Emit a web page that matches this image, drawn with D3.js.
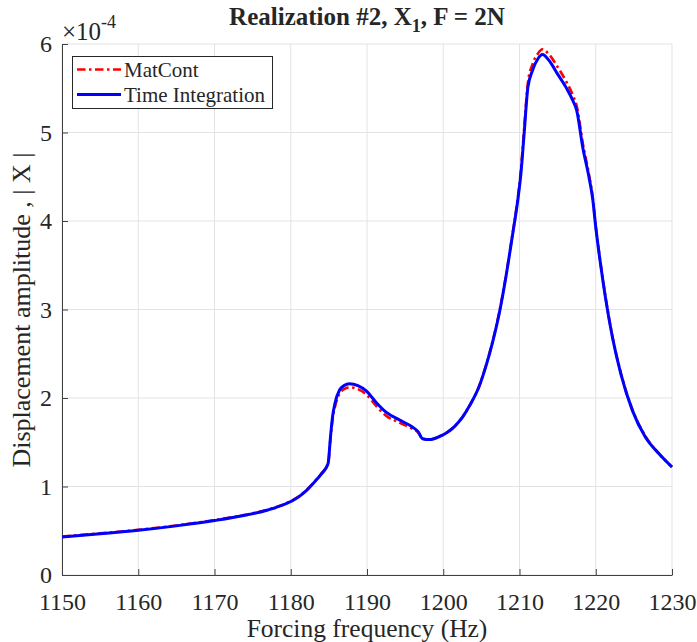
<!DOCTYPE html>
<html>
<head>
<meta charset="utf-8">
<script src="https://cdn.jsdelivr.net/npm/d3@7"></script>
<style>
  html, body { margin: 0; padding: 0; background: #fff; }
  svg { display: block; }
  text { font-family: "Liberation Serif", "Times New Roman", serif; fill: #262626; }
</style>
</head>
<body>
<svg id="chart" width="697" height="642"></svg>
<script>
// Forcing frequency samples (Hz)
const frequencies = [
  1150, 1155, 1160, 1165, 1170, 1174, 1177, 1180, 1181, 1182, 1183, 1184, 1184.9,
  1185.2, 1185.5, 1185.8, 1186.4, 1187, 1187.7, 1188.8, 1189.9, 1191.2, 1192.5,
  1194.3, 1196.0, 1196.7, 1197.3, 1198.2, 1199.5, 1200.5, 1201.5, 1202.5, 1203.5,
  1204.7, 1205.6, 1206.5, 1207.4, 1208.2, 1209.1, 1209.75, 1210.2, 1210.6, 1211.1,
  1211.7, 1212.4, 1213.0, 1213.9, 1215.0, 1216.1, 1217.0, 1217.5, 1218.3, 1219.1,
  1219.6, 1220.0, 1220.65, 1221.3, 1222.2, 1223.3, 1224.8, 1226.5, 1228.3, 1230
];

// Displacement amplitude |X| in units of 1e-4 — time integration
const timeIntegration = [
  0.43, 0.465, 0.505, 0.555, 0.615, 0.675, 0.735, 0.83, 0.88, 0.95, 1.04, 1.14, 1.26,
  1.55, 1.80, 1.94, 2.09, 2.14, 2.16, 2.14, 2.08, 1.95, 1.84,
  1.75, 1.67, 1.62, 1.54, 1.53, 1.565, 1.61, 1.68, 1.78, 1.92,
  2.13, 2.36, 2.64, 2.98, 3.36, 3.85, 4.22, 4.55, 4.98, 5.51,
  5.70, 5.83, 5.88, 5.81, 5.66, 5.51, 5.36, 5.25, 4.83, 4.50,
  4.25, 3.93, 3.50, 3.12, 2.68, 2.27, 1.86, 1.56, 1.37, 1.22
];

// Displacement amplitude |X| in units of 1e-4 — MatCont continuation
const matcont = [
  0.435, 0.47, 0.51, 0.56, 0.62, 0.68, 0.74, 0.835, 0.885, 0.955, 1.045, 1.145, 1.26,
  1.53, 1.77, 1.90, 2.05, 2.10, 2.12, 2.10, 2.04, 1.91, 1.80,
  1.72, 1.65, 1.61, 1.54, 1.53, 1.565, 1.61, 1.68, 1.78, 1.92,
  2.13, 2.37, 2.65, 2.99, 3.37, 3.86, 4.24, 4.59, 5.03, 5.56,
  5.77, 5.89, 5.94, 5.88, 5.74, 5.58, 5.42, 5.30, 4.88, 4.53,
  4.27, 3.94, 3.51, 3.13, 2.69, 2.28, 1.87, 1.57, 1.37, 1.22
];

const xTicks = [1150, 1160, 1170, 1180, 1190, 1200, 1210, 1220, 1230];
const yTicks = [0, 1, 2, 3, 4, 5, 6];

const svg = d3.select("#chart");
const plot = { left: 62, right: 672, top: 44, bottom: 575 };

const x = d3.scaleLinear().domain([1150, 1230]).range([plot.left, plot.right]);
const y = d3.scaleLinear().domain([0, 6]).range([plot.bottom, plot.top]);

// Grid
const grid = svg.append("g").attr("class", "grid");
grid.selectAll("line.gx").data(xTicks).join("line")
  .attr("x1", d => x(d)).attr("x2", d => x(d))
  .attr("y1", plot.top).attr("y2", plot.bottom)
  .attr("stroke", "#e3e3e3").attr("stroke-width", 1);
grid.selectAll("line.gy").data(yTicks).join("line")
  .attr("x1", plot.left).attr("x2", plot.right)
  .attr("y1", d => y(d)).attr("y2", d => y(d))
  .attr("stroke", "#e3e3e3").attr("stroke-width", 1);

// Axes (inward ticks)
const xAxis = d3.axisBottom(x).tickValues(xTicks).tickFormat(d3.format("d"))
  .tickSizeInner(-6).tickSizeOuter(0).tickPadding(10);
const yAxis = d3.axisLeft(y).tickValues(yTicks).tickFormat(d3.format("d"))
  .tickSizeInner(-6).tickSizeOuter(0).tickPadding(10);

const gx = svg.append("g").attr("transform", `translate(0,${plot.bottom})`).call(xAxis);
const gy = svg.append("g").attr("transform", `translate(${plot.left},0)`).call(yAxis);
[gx, gy].forEach(g => {
  g.select(".domain").attr("stroke", "#404040").attr("stroke-width", 1);
  g.selectAll(".tick line").attr("stroke", "#404040");
  g.selectAll(".tick text").attr("font-size", 24).attr("fill", "#262626")
    .style("font-family", "'Liberation Serif', serif");
});
gx.selectAll(".tick text").attr("y", 34.5).attr("dy", 0);

// Curves
const line = (vals) => d3.line()
  .x((d, i) => x(frequencies[i]))
  .y(d => y(d))
  .curve(d3.curveMonotoneX)(vals);

svg.append("path").attr("d", line(matcont))
  .attr("fill", "none").attr("stroke", "#ff0000").attr("stroke-width", 2.6)
  .attr("stroke-dasharray", "8.5,3.5,2.5,3.5");
svg.append("path").attr("d", line(timeIntegration))
  .attr("fill", "none").attr("stroke", "#0000ff").attr("stroke-width", 3);

// Exponent label
const expo = svg.append("text").attr("x", 62).attr("y", 40).attr("font-size", 25);
expo.append("tspan").text("\u00d710");
expo.append("tspan").attr("font-size", 18).attr("dy", -12).text("-4");

// Title
const title = svg.append("text").attr("x", 367).attr("y", 25)
  .attr("text-anchor", "middle").attr("font-size", 25).attr("font-weight", "bold")
  .attr("fill", "#000");
title.append("tspan").text("Realization #2, X");
title.append("tspan").attr("font-size", 18).attr("dy", 7).text("1");
title.append("tspan").attr("dy", -7).text(", F = 2N");

// Axis labels
svg.append("text").attr("x", 367).attr("y", 636.5).attr("text-anchor", "middle")
  .attr("font-size", 25.5).text("Forcing frequency (Hz)");
svg.append("text").attr("transform", "translate(30,310) rotate(-90)")
  .attr("text-anchor", "middle").attr("font-size", 26)
  .text("Displacement amplitude , | X |");

// Legend
const legend = svg.append("g");
legend.append("rect").attr("x", 72.5).attr("y", 56.5).attr("width", 200).attr("height", 52)
  .attr("fill", "#fff").attr("stroke", "#262626").attr("stroke-width", 1);
const entries = [
  { label: "MatCont", color: "#ff0000", dash: "8.5,3.5,2.5,3.5", width: 2.6 },
  { label: "Time Integration", color: "#0000ff", dash: null, width: 3 }
];
entries.forEach((e, i) => {
  const cy = 69.5 + i * 25;
  legend.append("line").attr("x1", 77).attr("x2", 121).attr("y1", cy).attr("y2", cy)
    .attr("stroke", e.color).attr("stroke-width", e.width)
    .attr("stroke-dasharray", e.dash);
  legend.append("text").attr("x", 124).attr("y", cy + 7).attr("font-size", 21)
    .attr("fill", "#000").text(e.label);
});
</script>
</body>
</html>
